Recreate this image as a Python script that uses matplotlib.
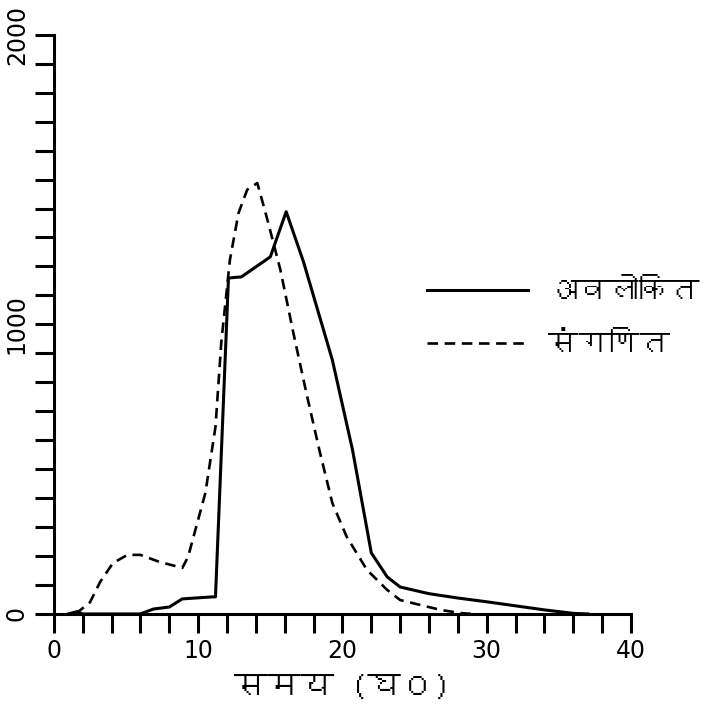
import numpy as np
import matplotlib
matplotlib.use('Agg')
import matplotlib.pyplot as plt
from matplotlib import font_manager
from matplotlib.ft2font import FT2Font

obs_t = [1.0, 1.6, 2.0, 6.0, 6.9, 8.0, 8.9, 11.0, 11.2, 12.1, 13.0, 15.0,
         16.1, 17.3, 19.3, 20.7, 22.0, 23.1, 24.0, 26.0, 28.0, 30.0, 32.0,
         34.0, 36.0, 37.0]
obs_q = [0, 8, 0, 0, 17, 24, 52, 59, 59, 1160, 1164, 1233,
         1389, 1216, 877, 566, 211, 128, 93, 70, 55, 42, 28,
         14, 2, 0]

cal_t = [1.5, 2.5, 3.2, 4.1, 5.1, 6.0, 7.3, 8.9, 9.3, 10.5, 11.2, 11.6,
         12.2, 12.8, 13.4, 14.1, 14.8, 15.7, 16.6, 17.5, 18.4, 19.3, 20.3,
         21.7, 23.1, 24.0, 25.4, 26.8, 28.2, 29.0]
cal_q = [0, 40, 110, 176, 204, 204, 180, 159, 197, 418, 646, 936,
         1223, 1385, 1465, 1488, 1361, 1188, 970, 763, 566, 383, 266,
         152, 83, 48, 31, 14, 3, 0]

obs_label = 'अवलोकित'
cal_label = 'संगणित'
x_label = 'समय (घ०)'


def deva_font():
    """Returns an installed family with Devanagari glyphs, if any.
    """
    for f in font_manager.fontManager.ttflist:
        try:
            if 0x0905 in FT2Font(f.fname).get_charmap():
                return f.name
        except Exception:
            continue
    return 'DejaVu Sans'


deva = deva_font()
plt.rcParams['font.family'] = ['DejaVu Sans']

fig = plt.figure(figsize=(7.09, 7.24), dpi=100)
ax = fig.add_axes([0.076, 0.152, 0.814, 0.80])

ax.plot(obs_t, obs_q, 'k-', lw=2.2, label=obs_label)
ax.plot(cal_t, cal_q, 'k--', lw=1.9, dashes=(4, 2.5), label=cal_label)

ax.set_xlim(0, 40)
ax.set_ylim(0, 2000)
ax.spines['top'].set_visible(False)
ax.spines['right'].set_visible(False)
ax.spines['left'].set_linewidth(2.2)
ax.spines['bottom'].set_linewidth(2.2)

ax.set_xticks(np.arange(0, 41, 2))
ax.set_xticklabels([str(v) if v % 10 == 0 else '' for v in range(0, 41, 2)])
ax.set_yticks(np.arange(0, 2001, 100))
ax.set_yticklabels([str(v) if v % 1000 == 0 else '' for v in range(0, 2001, 100)],
                   rotation=90, va='center')
ax.tick_params(axis='both', direction='out', length=14, width=2.2,
               labelsize=17, pad=4)

ax.set_xlabel(x_label, fontsize=24, family=[deva, 'DejaVu Sans'], labelpad=8)

leg = ax.legend(loc='center left', bbox_to_anchor=(0.625, 0.51), frameon=False,
                handlelength=3.3, handletextpad=0.65, labelspacing=0.9,
                borderaxespad=0,
                prop={'family': [deva, 'DejaVu Sans'], 'size': 22})

fig.savefig('out.png', dpi=100, facecolor='white')
